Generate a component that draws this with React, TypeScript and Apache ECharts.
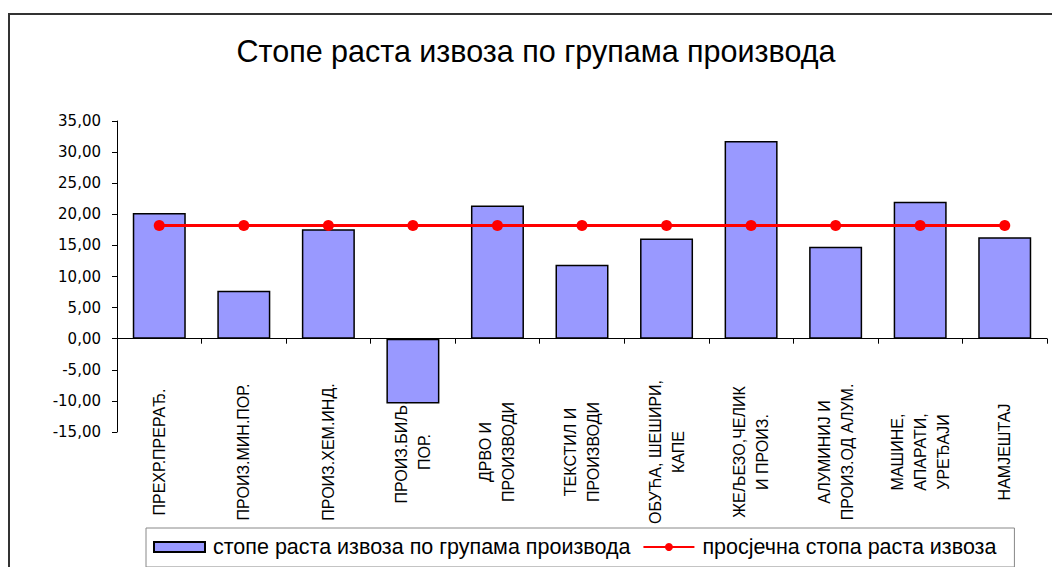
import React, { useEffect, useRef } from "react";
import * as echarts from "echarts";

const titleText = "Стопе раста извоза по групама производа";
const categories = [
  "ПРЕХР.ПРЕРАЂ.",
  "ПРОИЗ.МИН.ПОР.",
  "ПРОИЗ.ХЕМ.ИНД.",
  "ПРОИЗ.БИЉ.\nПОР.",
  "ДРВО И\nПРОИЗВОДИ",
  "ТЕКСТИЛ И\nПРОИЗВОДИ",
  "ОБУЋА, ШЕШИРИ,\nКАПЕ",
  "ЖЕЉЕЗО,ЧЕЛИК\nИ ПРОИЗ.",
  "АЛУМИНИЈ И\nПРОИЗ.ОД АЛУМ.",
  "МАШИНЕ,\nАПАРАТИ,\nУРЕЂАЈИ",
  "НАМЈЕШТАЈ",
];
const barName = "стопе раста извоза по групама производа";
const barValues = [20.2, 7.7, 17.6, -10.4, 21.4, 11.9, 16.1, 31.8, 14.8, 22.0, 16.3];
const lineName = "просјечна стопа раста извоза";
const lineValues = [18.2, 18.2, 18.2, 18.2, 18.2, 18.2, 18.2, 18.2, 18.2, 18.2, 18.2];
const yMin = -15;
const yMax = 35;
const yStep = 5;

export default function App() {
  const ref = useRef<HTMLDivElement>(null);
  useEffect(() => {
    document.body.style.margin = "0";
    if (!ref.current) return;
    const chart = echarts.init(ref.current, undefined, { renderer: "svg" });
    chart.setOption({
      animation: false,
      backgroundColor: "#ffffff",
      title: {
        text: titleText,
        left: 531,
        textAlign: "center",
        top: 30,
        textStyle: {
          fontFamily: "Liberation Sans, Arial, sans-serif",
          fontSize: 30.5,
          fontWeight: "normal",
          color: "#000",
        },
      },
      graphic: [
        {
          type: "rect",
          silent: true,
          z: -10,
          shape: { x: 9, y: 14, width: 1100, height: 600 },
          style: { fill: "none", stroke: "#333", lineWidth: 2 },
        },
      ],
      legend: {
        left: 146,
        top: 528,
        backgroundColor: "#fff",
        borderColor: "#888",
        borderWidth: 1,
        borderRadius: 0,
        padding: [8, 18, 9, 7],
        itemGap: 12,
        itemWidth: 51,
        itemHeight: 10,
        z: 10,
        textStyle: {
          fontFamily: "Liberation Sans, Arial, sans-serif",
          fontSize: 21.5,
          color: "#000",
          padding: [0, 0, 0, 3],
        },
        data: [
          { name: barName, icon: "rect" },
          { name: lineName },
        ],
      },
      grid: { left: 117, right: 5, top: 121, bottom: 135, containLabel: false, outerBoundsMode: "none" },
      xAxis: {
        type: "category",
        data: categories,
        axisLine: { onZero: true, lineStyle: { color: "#000", width: 1 } },
        axisTick: { show: true, length: 5, alignWithLabel: false, lineStyle: { color: "#000" } },
        axisLabel: {
          interval: 0,
          rotate: 90,
          align: "center",
          verticalAlign: "middle",
          margin: 20,
          lineHeight: 23,
          fontFamily: "Liberation Sans, Arial, sans-serif",
          fontSize: 16,
          color: "#000",
        },
        splitLine: { show: false },
      },
      yAxis: {
        type: "value",
        min: yMin,
        max: yMax,
        interval: yStep,
        axisLine: { show: true, lineStyle: { color: "#000", width: 1 } },
        axisTick: { show: true, length: 5, lineStyle: { color: "#000" } },
        splitLine: { show: false },
        axisLabel: {
          margin: 16,
          fontFamily: "DejaVu Sans, Verdana, sans-serif",
          fontSize: 15,
          color: "#000",
          formatter: (v: number) => v.toFixed(2).replace(".", ","),
        },
      },
      series: [
        {
          name: barName,
          type: "bar",
          data: barValues,
          barWidth: 53,
          itemStyle: { color: "#9999FF", borderColor: "#000", borderWidth: 1.5 },
          z: 2,
        },
        {
          name: lineName,
          type: "line",
          data: lineValues,
          symbol: "circle",
          symbolSize: 11,
          lineStyle: { color: "#FF0000", width: 3 },
          itemStyle: { color: "#FF0000" },
          z: 3,
        },
      ],
    });
    return () => chart.dispose();
  }, []);
  return <div ref={ref} style={{ width: 1052, height: 567 }} />;
}
